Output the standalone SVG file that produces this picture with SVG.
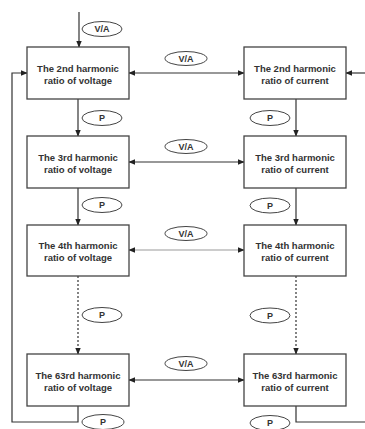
<svg xmlns="http://www.w3.org/2000/svg" width="365" height="429" viewBox="0 0 365 429">
<defs>
<marker id="ah" viewBox="0 0 10 10" refX="9" refY="5" markerWidth="7" markerHeight="7" orient="auto-start-reverse" markerUnits="userSpaceOnUse"><path d="M0,1 L10,5 L0,9 Z" fill="#222"/></marker>
<style>
.box{fill:#fff;stroke:#444;stroke-width:1.3}
.t{font-family:"Liberation Sans",Arial,sans-serif;font-size:9.5px;font-weight:bold;fill:#333;text-anchor:middle}
.lab{fill:#fff;stroke:#444;stroke-width:1}
.lt{font-family:"Liberation Sans",Arial,sans-serif;font-size:9px;font-weight:bold;fill:#333;text-anchor:middle}
.c{fill:none;stroke:#333;stroke-width:1.2}
.g{fill:none;stroke:#999;stroke-width:1.2}
.d{fill:none;stroke:#333;stroke-width:1.2;stroke-dasharray:2,2}
</style>
</defs>
<rect width="365" height="429" fill="#fff"/>
<g id="connectors">
<line class="c" x1="79" y1="12" x2="79" y2="47" marker-end="url(#ah)"/>
<line class="c" x1="78" y1="99" x2="78" y2="136" marker-end="url(#ah)"/>
<line class="c" x1="78" y1="188" x2="78" y2="225" marker-end="url(#ah)"/>
<line class="d" x1="78" y1="276" x2="78" y2="354" marker-end="url(#ah)"/>
<line class="c" x1="296" y1="99" x2="296" y2="136" marker-end="url(#ah)"/>
<line class="c" x1="296" y1="188" x2="296" y2="225" marker-end="url(#ah)"/>
<line class="d" x1="296" y1="276" x2="296" y2="354" marker-end="url(#ah)"/>
<line class="c" x1="129" y1="73" x2="244" y2="73" marker-start="url(#ah)" marker-end="url(#ah)"/>
<line class="c" x1="129" y1="162" x2="244" y2="162" marker-start="url(#ah)" marker-end="url(#ah)"/>
<line class="g" x1="129" y1="250" x2="244" y2="250" marker-start="url(#ah)" marker-end="url(#ah)"/>
<line class="c" x1="129" y1="380" x2="244" y2="380" marker-start="url(#ah)" marker-end="url(#ah)"/>
<line class="c" x1="365" y1="73" x2="346" y2="73" marker-end="url(#ah)"/>
<polyline class="c" points="78,406 78,422 12,422 12,73 27,73" marker-end="url(#ah)"/>
<polyline class="c" points="296,406 296,422 365,422"/>
</g>
<g id="labels">
<ellipse class="lab" cx="102" cy="29" rx="20" ry="7.5"/><text class="lt" x="102" y="32.2">V/A</text>
<ellipse class="lab" cx="186" cy="58.5" rx="21" ry="7"/><text class="lt" x="186" y="61.7">V/A</text>
<ellipse class="lab" cx="186" cy="146.5" rx="21" ry="7"/><text class="lt" x="186" y="149.7">V/A</text>
<ellipse class="lab" cx="186" cy="233.5" rx="21" ry="7"/><text class="lt" x="186" y="236.7">V/A</text>
<ellipse class="lab" cx="186" cy="363.5" rx="21" ry="7"/><text class="lt" x="186" y="366.7">V/A</text>
<ellipse class="lab" cx="102" cy="118" rx="20" ry="7.5"/><text class="lt" x="102" y="121.2">P</text>
<ellipse class="lab" cx="270" cy="118" rx="20" ry="7.5"/><text class="lt" x="270" y="121.2">P</text>
<ellipse class="lab" cx="102" cy="205" rx="20" ry="7.5"/><text class="lt" x="102" y="208.2">P</text>
<ellipse class="lab" cx="270" cy="205.5" rx="20" ry="7.5"/><text class="lt" x="270" y="208.7">P</text>
<ellipse class="lab" cx="102" cy="315" rx="20" ry="7.5"/><text class="lt" x="102" y="318.2">P</text>
<ellipse class="lab" cx="270" cy="315.5" rx="20" ry="7.5"/><text class="lt" x="270" y="318.7">P</text>
<ellipse class="lab" cx="103" cy="422" rx="21" ry="7.5"/><text class="lt" x="103" y="425.2">P</text>
<ellipse class="lab" cx="270" cy="423" rx="20" ry="7.5"/><text class="lt" x="270" y="426.2">P</text>
</g>
<g id="v2"><rect class="box" x="27" y="47" width="102" height="52"/><text class="t" x="78" y="71.5">The 2nd harmonic</text><text class="t" x="78" y="83.5">ratio of voltage</text></g>
<g id="c2"><rect class="box" x="244" y="47" width="102" height="52"/><text class="t" x="295" y="71.5">The 2nd harmonic</text><text class="t" x="295" y="83.5">ratio of current</text></g>
<g id="v3"><rect class="box" x="27" y="136" width="102" height="52"/><text class="t" x="78" y="160.5">The 3rd harmonic</text><text class="t" x="78" y="172.5">ratio of voltage</text></g>
<g id="c3"><rect class="box" x="244" y="136" width="102" height="52"/><text class="t" x="295" y="160.5">The 3rd harmonic</text><text class="t" x="295" y="172.5">ratio of current</text></g>
<g id="v4"><rect class="box" x="27" y="225" width="102" height="51"/><text class="t" x="78" y="249">The 4th harmonic</text><text class="t" x="78" y="261">ratio of voltage</text></g>
<g id="c4"><rect class="box" x="244" y="225" width="102" height="51"/><text class="t" x="295" y="249">The 4th harmonic</text><text class="t" x="295" y="261">ratio of current</text></g>
<g id="v63"><rect class="box" x="27" y="354" width="102" height="52"/><text class="t" x="78" y="378.5">The 63rd harmonic</text><text class="t" x="78" y="390.5">ratio of voltage</text></g>
<g id="c63"><rect class="box" x="244" y="354" width="102" height="52"/><text class="t" x="295" y="378.5">The 63rd harmonic</text><text class="t" x="295" y="390.5">ratio of current</text></g>
</svg>
